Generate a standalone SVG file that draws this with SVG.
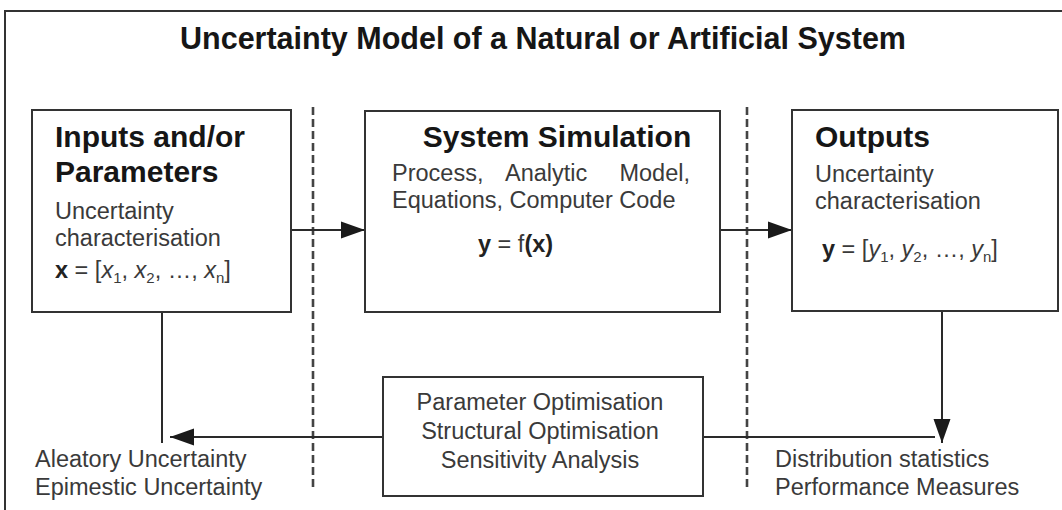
<svg xmlns="http://www.w3.org/2000/svg" width="1062" height="510" viewBox="0 0 1062 510">
<style>
.box{fill:#fff;stroke:#333;stroke-width:2}
.ln{stroke:#2a2a2a;stroke-width:2;fill:none}
.dash{stroke:#444;stroke-width:2.6;stroke-dasharray:8 4;fill:none}
.h{font-family:"Liberation Sans",Arial,sans-serif;font-weight:bold;font-size:30px;fill:#161616}
.t{font-family:"Liberation Sans",Arial,sans-serif;font-size:23.5px;fill:#3a3a3a}
.b{font-weight:bold;fill:#222}
.i{font-style:italic}
.s{font-size:15px}
</style>
<defs>
<marker id="ah" markerUnits="userSpaceOnUse" markerWidth="25" markerHeight="20" refX="24" refY="10" orient="auto">
<path d="M0,1.5 L24,10 L0,18.5 z" fill="#1a1a1a"/>
</marker>
</defs>
<rect x="5" y="11" width="1080" height="520" fill="#fff" stroke="#333" stroke-width="2"/>
<text x="543" y="49" text-anchor="middle" class="h" style="font-size:30.5px">Uncertainty Model of a Natural or Artificial System</text>
<g id="dividers">
<line class="dash" x1="313" y1="107" x2="313" y2="490"/>
<line class="dash" x1="747" y1="107" x2="747" y2="490"/>
</g>
<g id="connectors">
<line class="ln" x1="291" y1="230" x2="365" y2="230" marker-end="url(#ah)"/>
<line class="ln" x1="720" y1="230" x2="792" y2="230" marker-end="url(#ah)"/>
<line class="ln" x1="942" y1="311" x2="942" y2="443" marker-end="url(#ah)"/>
<line class="ln" x1="703" y1="437" x2="935" y2="437"/>
<line class="ln" x1="383" y1="437" x2="170" y2="437" marker-end="url(#ah)"/>
<line class="ln" x1="162" y1="312" x2="162" y2="443"/>
</g>
<g id="inputs">
<rect class="box" x="32" y="110" width="259" height="202"/>
<text x="55" y="147" class="h">Inputs and/or</text>
<text x="55" y="182" class="h">Parameters</text>
<text x="55" y="219" class="t">Uncertainty</text>
<text x="55" y="246" class="t">characterisation</text>
<text x="55" y="278" class="t"><tspan class="b">x</tspan> = [<tspan class="i">x</tspan><tspan class="s" dy="5">1</tspan><tspan dy="-5">, </tspan><tspan class="i">x</tspan><tspan class="s" dy="5">2</tspan><tspan dy="-5">, …, </tspan><tspan class="i">x</tspan><tspan class="s" dy="5">n</tspan><tspan dy="-5">]</tspan></text>
</g>
<g id="simulation">
<rect class="box" x="365" y="111" width="355" height="201"/>
<text x="557" y="147" text-anchor="middle" class="h">System Simulation</text>
<text x="392" y="181" class="t">Process,</text>
<text x="505" y="181" class="t">Analytic</text>
<text x="690" y="181" text-anchor="end" class="t">Model,</text>
<text x="392" y="208" class="t">Equations, Computer Code</text>
<text x="478" y="252" class="t"><tspan class="b">y</tspan> = f<tspan class="b">(x)</tspan></text>
</g>
<g id="outputs">
<rect class="box" x="792" y="110" width="266" height="201"/>
<text x="815" y="147" class="h">Outputs</text>
<text x="815" y="182" class="t">Uncertainty</text>
<text x="815" y="209" class="t">characterisation</text>
<text x="822" y="257" class="t"><tspan class="b">y</tspan> = [<tspan class="i">y</tspan><tspan class="s" dy="5">1</tspan><tspan dy="-5">, </tspan><tspan class="i">y</tspan><tspan class="s" dy="5">2</tspan><tspan dy="-5">, …, </tspan><tspan class="i">y</tspan><tspan class="s" dy="5">n</tspan><tspan dy="-5">]</tspan></text>
</g>
<g id="analysis">
<rect class="box" x="383" y="377" width="320" height="119"/>
<text x="540" y="410" text-anchor="middle" class="t">Parameter Optimisation</text>
<text x="540" y="439" text-anchor="middle" class="t">Structural Optimisation</text>
<text x="540" y="468" text-anchor="middle" class="t">Sensitivity Analysis</text>
</g>
<g id="uncertainty-labels">
<text x="35" y="467" class="t">Aleatory Uncertainty</text>
<text x="35" y="495" class="t">Epimestic Uncertainty</text>
</g>
<g id="measures-labels">
<text x="775" y="467" class="t">Distribution statistics</text>
<text x="775" y="495" class="t">Performance Measures</text>
</g>
</svg>
